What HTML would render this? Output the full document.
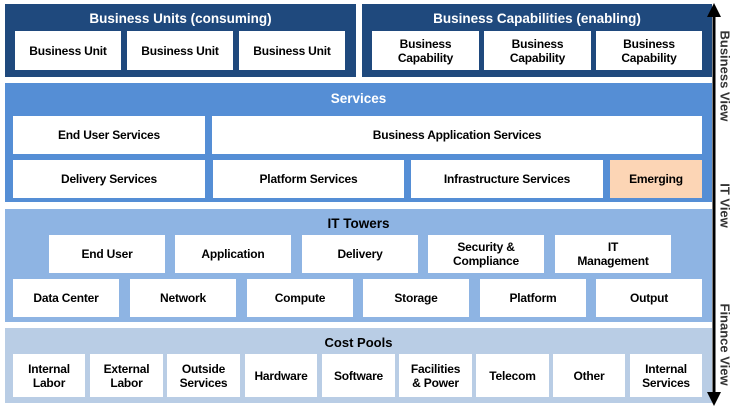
<!DOCTYPE html>
<html><head><style>
body{margin:0;width:738px;height:409px;background:#fff;position:relative;overflow:hidden;font-family:"Liberation Sans",Arial,sans-serif;font-weight:bold}
.p{position:absolute}
.b{position:absolute;background:#fff;display:flex;align-items:center;justify-content:center;text-align:center;font-size:12px;line-height:14px;color:#000;letter-spacing:-0.2px}
.t{position:absolute;color:#fff;font-size:13.5px;text-align:center}
.v{position:absolute;color:#333;font-size:13px;transform:rotate(90deg);white-space:nowrap;transform-origin:center}
</style></head><body>
<div class="p" style="left:5px;top:4px;width:351px;height:73px;background:#1f497d"></div>
<div class="t" style="left:5px;top:11px;width:351px">Business Units (consuming)</div>
<div class="b" style="left:15px;top:31px;width:106px;height:39px">Business Unit</div>
<div class="b" style="left:127px;top:31px;width:106px;height:39px">Business Unit</div>
<div class="b" style="left:239px;top:31px;width:106px;height:39px">Business Unit</div>

<div class="p" style="left:362px;top:4px;width:350px;height:73px;background:#1f497d"></div>
<div class="t" style="left:362px;top:11px;width:350px">Business Capabilities (enabling)</div>
<div class="b" style="left:372px;top:31px;width:107px;height:39px">Business<br>Capability</div>
<div class="b" style="left:484px;top:31px;width:107px;height:39px">Business<br>Capability</div>
<div class="b" style="left:596px;top:31px;width:106px;height:39px">Business<br>Capability</div>

<div class="p" style="left:5px;top:83px;width:707px;height:119px;background:#558ed5"></div>
<div class="t" style="left:5px;top:91px;width:707px">Services</div>
<div class="b" style="left:13px;top:116px;width:192px;height:38px">End User Services</div>
<div class="b" style="left:212px;top:116px;width:490px;height:38px">Business Application Services</div>
<div class="b" style="left:13px;top:160px;width:192px;height:38px">Delivery Services</div>
<div class="b" style="left:213px;top:160px;width:191px;height:38px">Platform Services</div>
<div class="b" style="left:411px;top:160px;width:192px;height:38px">Infrastructure Services</div>
<div class="b" style="left:610px;top:160px;width:92px;height:38px;background:#fcd5b5">Emerging</div>

<div class="p" style="left:5px;top:209px;width:707px;height:113px;background:#8eb4e3"></div>
<div class="t" style="left:5px;top:216px;width:707px;color:#000">IT Towers</div>
<div class="b" style="left:49px;top:235px;width:116px;height:38px">End User</div>
<div class="b" style="left:175px;top:235px;width:116px;height:38px">Application</div>
<div class="b" style="left:302px;top:235px;width:116px;height:38px">Delivery</div>
<div class="b" style="left:428px;top:235px;width:116px;height:38px">Security &amp;<br>Compliance</div>
<div class="b" style="left:555px;top:235px;width:116px;height:38px">IT<br>Management</div>
<div class="b" style="left:13px;top:279px;width:106px;height:38px">Data Center</div>
<div class="b" style="left:130px;top:279px;width:106px;height:38px">Network</div>
<div class="b" style="left:247px;top:279px;width:106px;height:38px">Compute</div>
<div class="b" style="left:363px;top:279px;width:106px;height:38px">Storage</div>
<div class="b" style="left:480px;top:279px;width:106px;height:38px">Platform</div>
<div class="b" style="left:596px;top:279px;width:106px;height:38px">Output</div>

<div class="p" style="left:5px;top:328px;width:707px;height:75px;background:#b9cde5"></div>
<div class="t" style="left:5px;top:335px;width:707px;color:#000;font-size:13px">Cost Pools</div>
<div class="b" style="left:13px;top:354px;width:72px;height:43px">Internal<br>Labor</div>
<div class="b" style="left:90px;top:354px;width:73px;height:43px">External<br>Labor</div>
<div class="b" style="left:167px;top:354px;width:73px;height:43px">Outside<br>Services</div>
<div class="b" style="left:245px;top:354px;width:72px;height:43px">Hardware</div>
<div class="b" style="left:322px;top:354px;width:73px;height:43px">Software</div>
<div class="b" style="left:399px;top:354px;width:73px;height:43px">Facilities<br>&amp; Power</div>
<div class="b" style="left:476px;top:354px;width:73px;height:43px">Telecom</div>
<div class="b" style="left:553px;top:354px;width:72px;height:43px">Other</div>
<div class="b" style="left:630px;top:354px;width:72px;height:43px">Internal<br>Services</div>

<svg class="p" style="left:700px;top:0" width="30" height="409">
<line x1="14" y1="14" x2="14" y2="395" stroke="#000" stroke-width="3"/>
<polygon points="14,3 7,17 21,17" fill="#000"/>
<polygon points="14,406 7,392 21,392" fill="#000"/>
</svg>
<div class="v" style="left:685px;top:63px;width:80px;text-align:center">Business View</div>
<div class="v" style="left:685px;top:198px;width:80px;text-align:center">IT View</div>
<div class="v" style="left:685px;top:336px;width:80px;text-align:center">Finance View</div>
</body></html>
